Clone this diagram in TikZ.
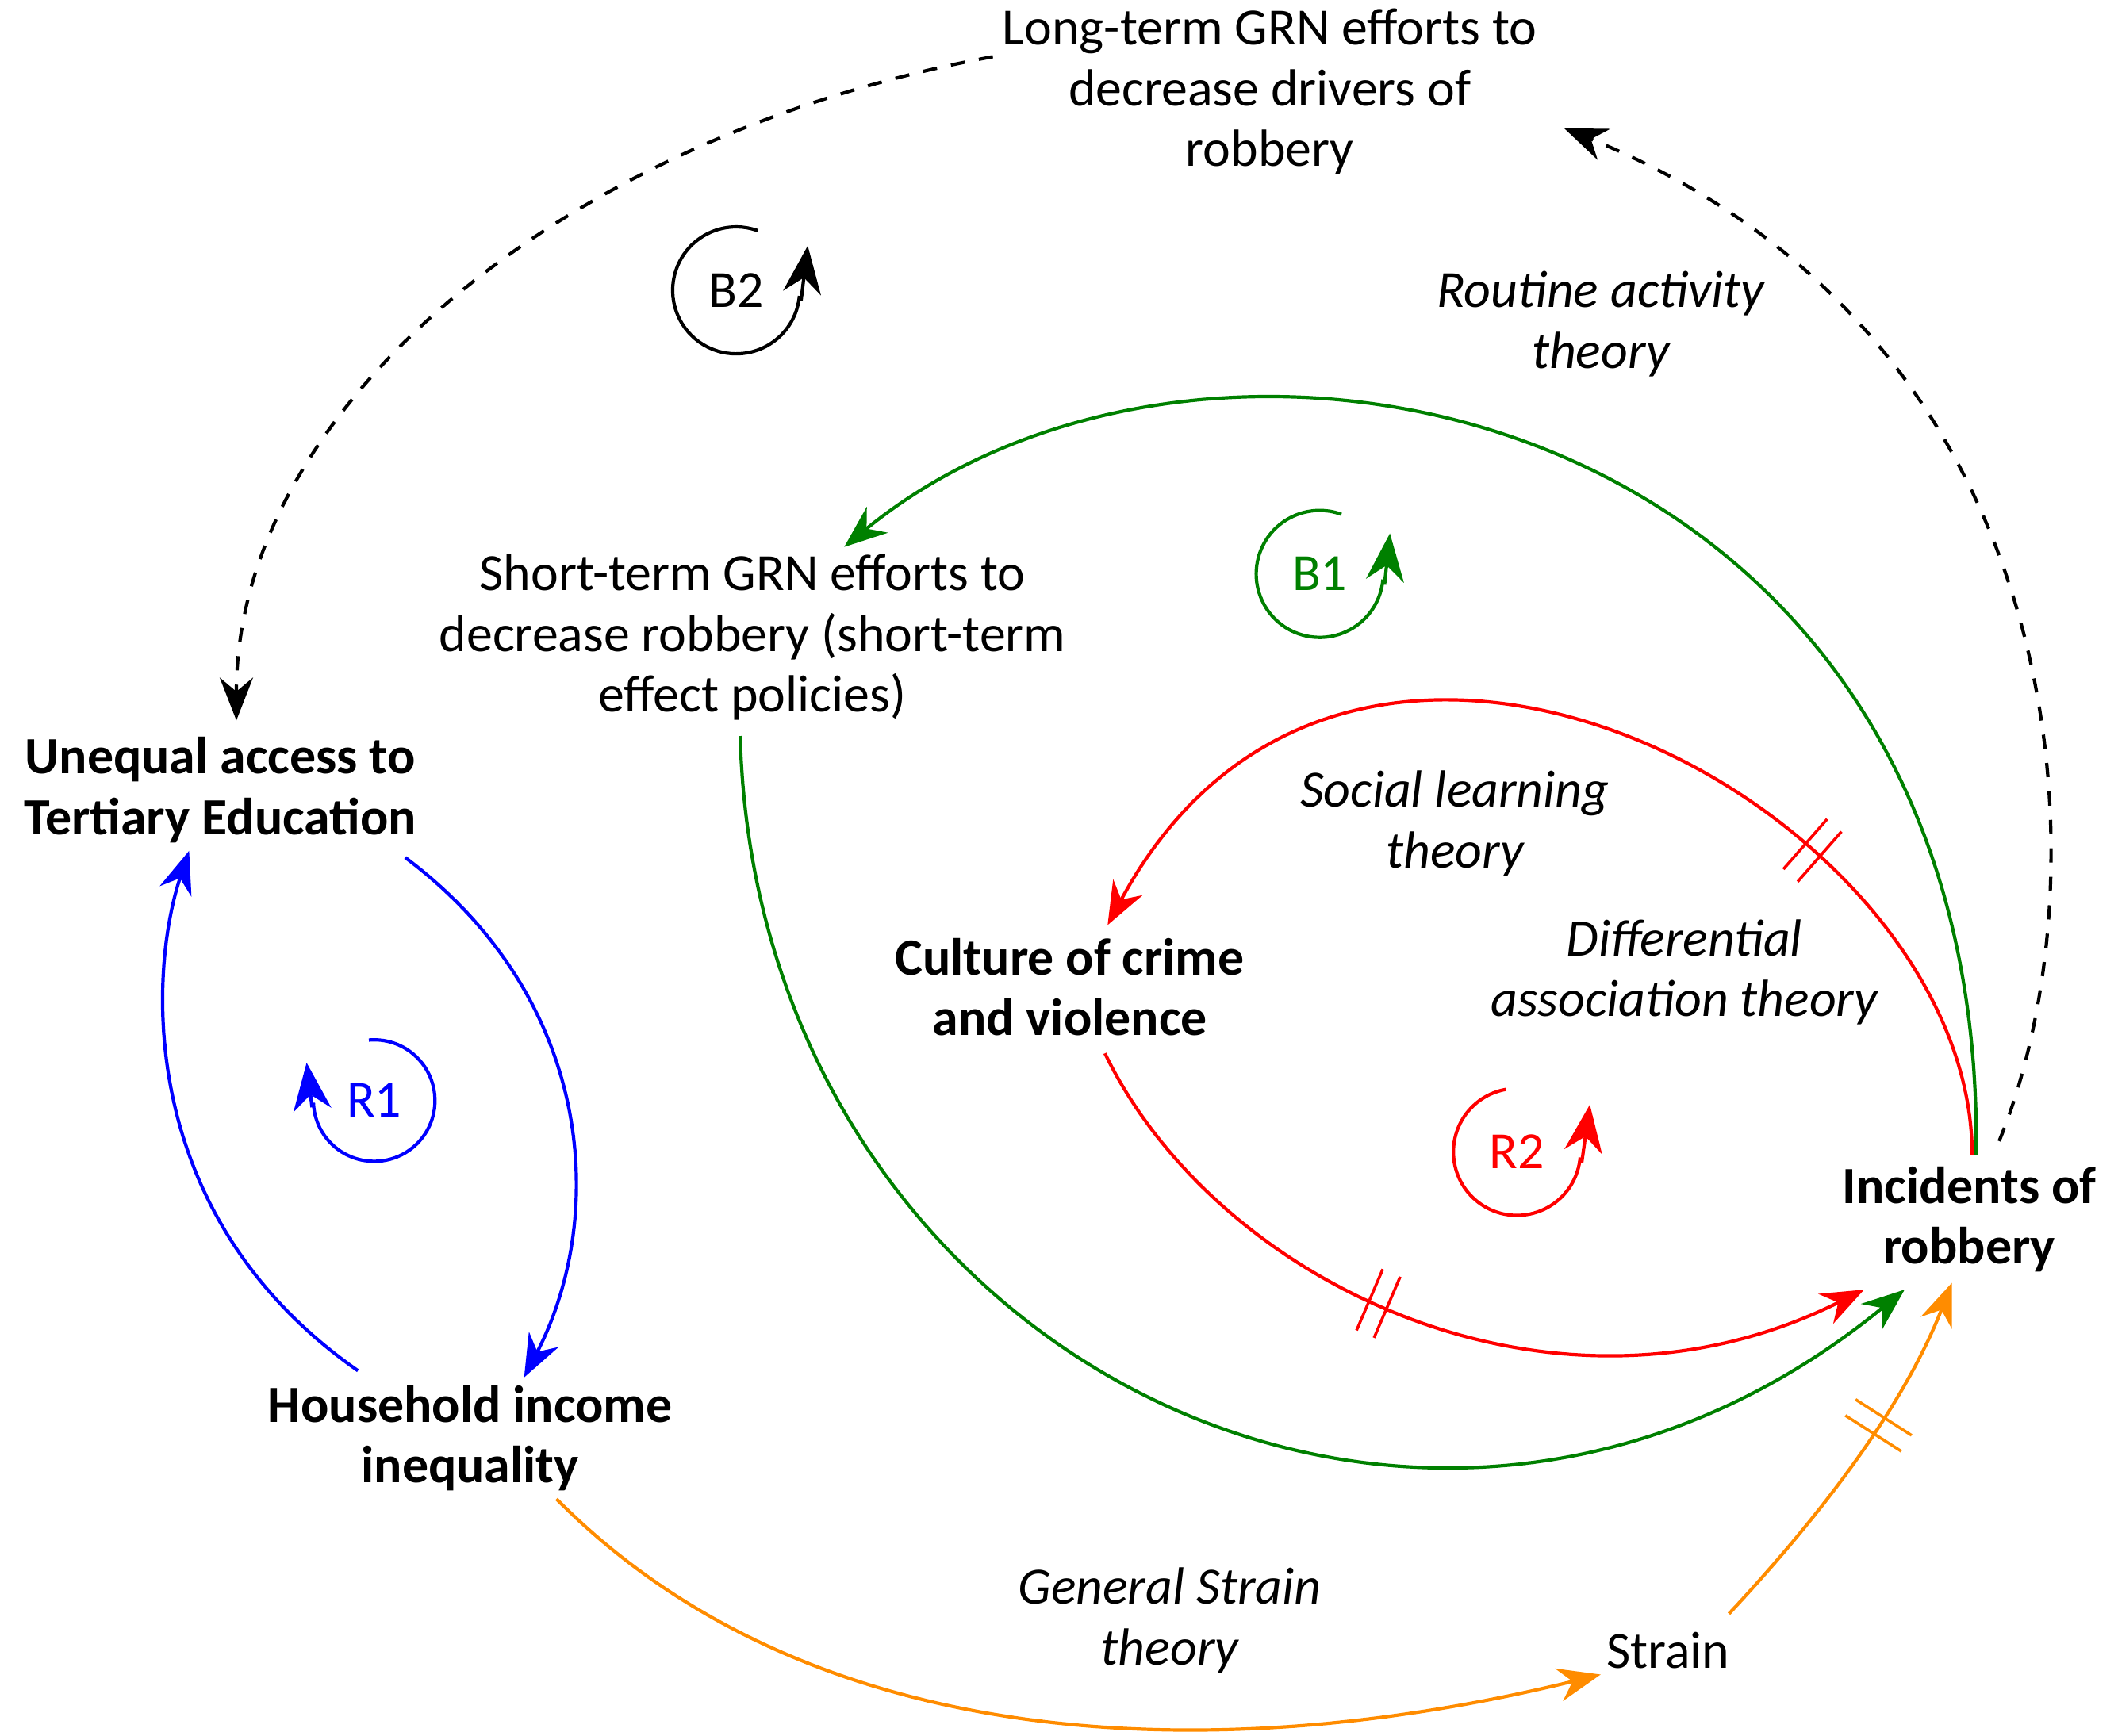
\documentclass[tikz,border=0pt]{standalone}
\usepackage{fontspec}
\setmainfont{Carlito}
\usetikzlibrary{arrows.meta,decorations.markings}
\definecolor{gr}{RGB}{0,128,0}
\definecolor{rd}{RGB}{255,0,0}
\definecolor{bl}{RGB}{0,0,255}
\definecolor{orr}{RGB}{255,140,0}
\begin{document}
\begin{tikzpicture}[x=0.01cm,y=-0.01cm,
 txt/.style={align=center,font=\fontsize{11}{12.8}\selectfont},
 bt/.style={txt,font=\fontsize{11}{12.8}\selectfont\bfseries},
 it/.style={txt,font=\fontsize{11}{12.8}\selectfont\itshape},
 lk/.style={line width=0.7pt,-{Stealth[length=9pt,width=7pt]}},
 tip/.style={line width=0.7pt,-{Stealth[length=10pt,width=8pt]}},
 hash/.style={postaction={decorate,decoration={markings,mark=at position #1 with {\draw[-,line width=0.6pt] (-2pt,-7pt)--(-2pt,7pt); \draw[-,line width=0.6pt] (2pt,-7pt)--(2pt,7pt);}}}}]
\useasboundingbox (0,0) rectangle (1568,1285);
\node[txt] (lt) at (940,68) {Long-term GRN efforts to\\decrease drivers of\\robbery};
\node[txt] (st) at (557,472) {Short-term GRN efforts to\\decrease robbery (short-term\\effect policies)};
\node[bt] (ue) at (163,585) {Unequal access to\\Tertiary Education};
\node[bt] (cu) at (792,731) {Culture of crime\\and violence};
\node[bt] (in) at (1458,903) {Incidents of\\robbery};
\node[bt] (hh) at (348,1065) {Household income\\inequality};
\node[txt] (sr) at (1235,1222) {Strain};
\node[it] (l1) at (1185,240) {Routine activity\\theory};
\node[it] (l2) at (1077,610) {Social learning\\theory};
\node[it] (l3) at (1247,720) {Differential\\association theory};
\node[it] (l4) at (866,1200) {General Strain\\theory};
% loops
\node[txt] (b2) at (545,215) {B2};
\begin{scope}[shift={(545,215)},y=0.01cm]
\draw[line width=0.7pt] (70:47) arc[start angle=70,end angle=355,radius=47];
\draw[tip] (48,-8)--(53,33);
\end{scope}
\node[txt,text=gr] (b1) at (977,425) {B1};
\begin{scope}[shift={(977,425)},y=0.01cm,gr]
\draw[line width=0.7pt] (70:47) arc[start angle=70,end angle=355,radius=47];
\draw[tip] (48,-8)--(52,30);
\end{scope}
\node[txt,text=bl] (r1) at (277,815) {R1};
\begin{scope}[shift={(277,815)},y=0.01cm,bl]
\draw[line width=0.7pt] (95:45) arc[start angle=95,end angle=-178,radius=45];
\draw[tip] (-46,-5)--(-50,28);
\end{scope}
\node[txt,text=rd] (r2) at (1123,853) {R2};
\begin{scope}[shift={(1123,853)},y=0.01cm,rd]
\draw[line width=0.7pt] (100:47) arc[start angle=100,end angle=355,radius=47];
\draw[tip] (48,-8)--(54,35);
\end{scope}
% connectors
\coordinate (a1) at (735,42);
\draw[lk,dashed] (a1) .. controls (420,100) and (175,300) .. (ue.north -| 175,0);
\coordinate (a2) at (1480,845);
\draw[lk,dashed] (a2) .. controls (1560,650) and (1540,250) .. (1158,95);
\coordinate (g1) at (1463,855);
\draw[lk,gr] (g1) .. controls (1470,300) and (900,180) .. (625,405);
\coordinate (g2) at (548,545);
\draw[lk,gr] (g2) .. controls (560,1000) and (1050,1250) .. (1410,955);
\coordinate (r1s) at (1460,855);
\draw[lk,rd,hash=0.30] (r1s) .. controls (1460,600) and (1000,350) .. (820,685);
\coordinate (r2s) at (818,780);
\draw[lk,rd,hash=0.43] (r2s) .. controls (900,950) and (1150,1070) .. (1380,955);
\coordinate (o1) at (1280,1195);
\draw[lk,orr,hash=0.6] (o1) .. controls (1350,1120) and (1410,1040) .. (1445,950);
\coordinate (o2) at (412,1110);
\draw[lk,orr] (o2) .. controls (600,1300) and (900,1310) .. (1185,1240);
\coordinate (bb1) at (265,1015);
\draw[lk,bl] (bb1) .. controls (100,900) and (110,720) .. (140,630);
\coordinate (bb2) at (300,635);
\draw[lk,bl] (bb2) .. controls (440,740) and (450,900) .. (388,1020);
\end{tikzpicture}
\end{document}
